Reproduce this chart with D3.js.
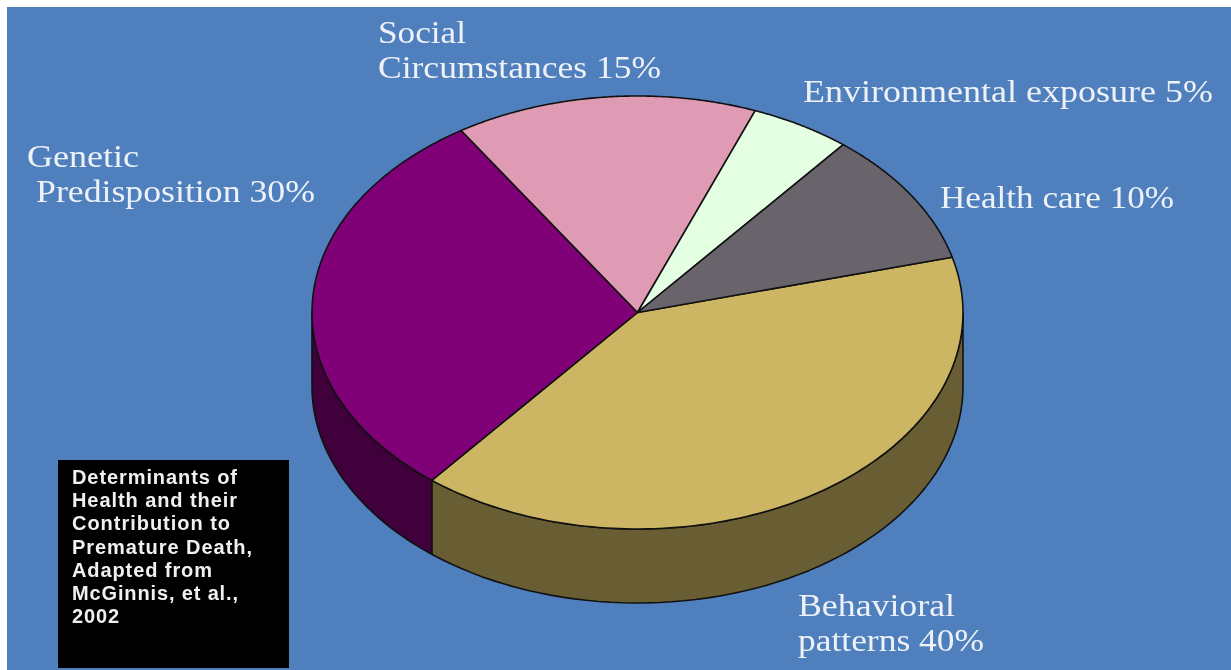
<!DOCTYPE html>
<html>
<head>
<meta charset="utf-8">
<script src="https://cdn.jsdelivr.net/npm/d3@7"></script>
<style>
html,body{margin:0;padding:0;background:#fff;overflow:hidden}
svg{display:block}
.lab{font-family:"Liberation Serif",serif;fill:#eef2f8;font-size:32px;filter:blur(0.35px)}
.note{font-family:"Liberation Sans",sans-serif;font-weight:700;fill:#f0f0f0;font-size:20px;filter:blur(0.35px)}
</style>
</head>
<body>
<svg id="c" width="1231" height="670"></svg>
<script>
const categories=["Behavioral patterns","Genetic Predisposition","Social Circumstances","Environmental exposure","Health care"];
const shares=[40,30,15,5,10];
const topColors=["#cdb663","#800078","#df9bb4","#e4ffe2","#69646c"];
const sideColors=["#695d33","#40003c","#7a5563","#7c8c7b","#3a3739"];
const labelLines=[["Behavioral","patterns 40%"],["Genetic","Predisposition 30%"],["Social","Circumstances 15%"],["Environmental exposure 5%"],["Health care 10%"]];
const labelX=[[798,798],[27,36],[378,378],[803],[940]];
const labelY=[[616,651],[167,202],[43,78],[102],[208]];
const labelW=[[157,186],[112,279],[88,283],[410],[234]];
const noteLines=["Determinants of","Health and their","Contribution to","Premature Death,","Adapted from","McGinnis, et al.,","2002"];
const noteW=[165,165,158,180,140,166,47];

const svg=d3.select("#c");
const cx=637.5,cy=312.5,rx=325.5,ry=216.5,depth=74;
svg.append("rect").attr("x",7).attr("y",7).attr("width",1224).attr("height",663).attr("fill","#4f80bd");

const startA=75.2*Math.PI/180;
const pie=d3.pie().sort(null).value(d=>d).startAngle(startA).endAngle(startA+2*Math.PI);
const arcs=pie(shares);
const px=a=>cx+rx*Math.sin(a), py=a=>cy-ry*Math.cos(a);
const line=d3.line().x(d=>d[0]).y(d=>d[1]);

// side wall: visible where the rim is on the front half
const lo=Math.PI/2, hi=3*Math.PI/2;
arcs.forEach((d,i)=>{
  const a0=Math.max(d.startAngle,lo), a1=Math.min(d.endAngle,hi);
  if(a1<=a0) return;
  const rim=d3.range(0,61).map(k=>a0+(a1-a0)*k/60);
  const pts=rim.map(a=>[px(a),py(a)]).concat(rim.slice().reverse().map(a=>[px(a),py(a)+depth]));
  svg.append("path").attr("d",line(pts)+"Z").attr("fill",sideColors[i]).attr("stroke","#111").attr("stroke-width",1.6).attr("stroke-linejoin","round");
});
// top face
arcs.forEach((d,i)=>{
  const rim=d3.range(0,121).map(k=>d.startAngle+(d.endAngle-d.startAngle)*k/120);
  const pts=[[cx,cy]].concat(rim.map(a=>[px(a),py(a)]));
  svg.append("path").attr("d",line(pts)+"Z").attr("fill",topColors[i]).attr("stroke","#111").attr("stroke-width",1.6).attr("stroke-linejoin","round");
});
// labels
labelLines.forEach((ls,i)=>ls.forEach((t,j)=>{
  svg.append("text").attr("class","lab").attr("x",labelX[i][j]).attr("y",labelY[i][j])
    .attr("textLength",labelW[i][j]).attr("lengthAdjust","spacingAndGlyphs").text(t);
}));
// note box
svg.append("rect").attr("x",58).attr("y",460).attr("width",231).attr("height",208).attr("fill","#000");
noteLines.forEach((t,j)=>{
  svg.append("text").attr("class","note").attr("x",72).attr("y",484+j*23.2)
    .attr("textLength",noteW[j]).attr("lengthAdjust","spacing").text(t);
});
</script>
</body>
</html>
